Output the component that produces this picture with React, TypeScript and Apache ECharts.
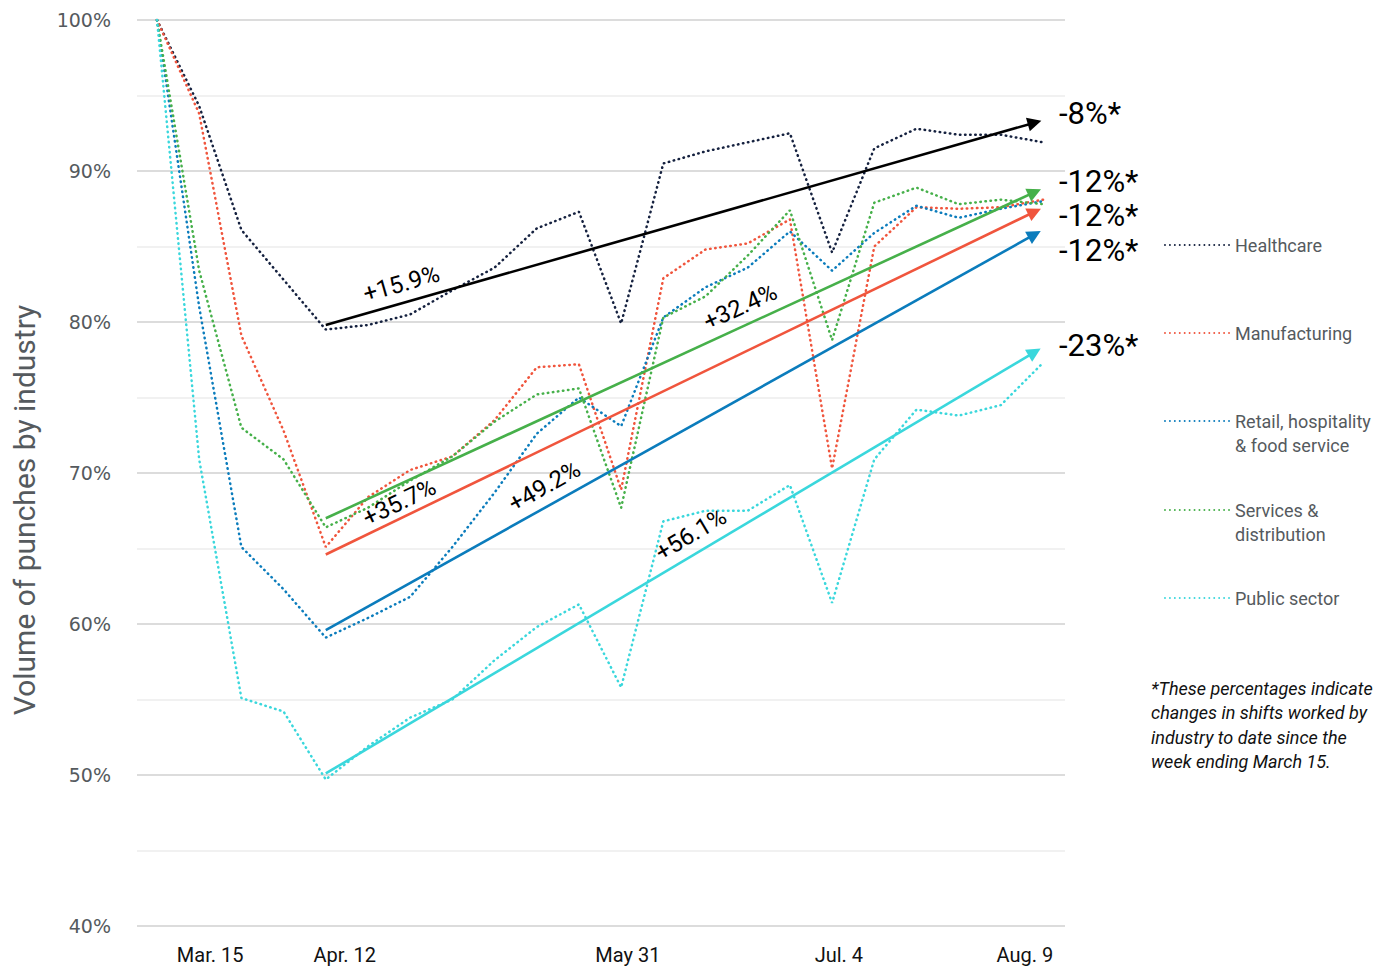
import React, { useEffect, useRef } from "react";
import * as echarts from "echarts";

// weekly observations, week ending Mar 15 (index 0) through Aug 9 (index 21)
const healthcare = [100, 94.3, 86.1, 82.8, 79.5, 79.8, 80.5, 82.1, 83.6, 86.2, 87.3, 79.9, 90.5, 91.3, 91.9, 92.5, 84.6, 91.5, 92.8, 92.4, 92.4, 91.9];
const manufacturing = [100, 93.8, 79.1, 72.8, 65.1, 68.4, 70.2, 71.1, 73.5, 77.0, 77.2, 68.9, 82.9, 84.8, 85.2, 86.8, 70.3, 85.0, 87.6, 87.5, 87.6, 88.1];
const retail = [100, 81.0, 65.1, 62.3, 59.1, 60.4, 61.8, 65.1, 68.7, 72.6, 75.0, 73.1, 80.3, 82.3, 83.6, 86.0, 83.4, 85.9, 87.7, 86.9, 87.5, 88.0];
const services = [100, 83.4, 73.0, 70.9, 66.4, 67.7, 69.5, 71.1, 73.4, 75.2, 75.6, 67.7, 80.3, 81.7, 84.4, 87.4, 78.8, 87.9, 88.9, 87.8, 88.1, 87.8];
const publicSector = [100, 70.9, 55.1, 54.2, 49.7, 51.9, 53.8, 55.0, 57.6, 59.8, 61.3, 55.8, 66.8, 67.5, 67.5, 69.2, 61.4, 70.9, 74.2, 73.8, 74.5, 77.3];

const seriesNames = ["Healthcare", "Manufacturing", "Retail, hospitality & food service", "Services & distribution", "Public sector"];
const legendFirstLines = ["Healthcare", "Manufacturing", "Retail, hospitality", "Services &", "Public sector"];
const legendSecondLines = ["", "", "& food service", "distribution", ""];
const colors = ["#15213f", "#f0553d", "#0b7cbc", "#46b04a", "#3ad7dc"];

// trend arrows (from Apr. 12 to Aug. 9)
const trendStartX = 4;
const trendEndX = 20.8;
const trendNames = ["+15.9%", "+32.4%", "+35.7%", "+49.2%", "+56.1%"];
const trendStart = [79.8, 67.0, 64.6, 59.6, 50.1];
const trendEnd = [93.2, 88.6, 87.3, 85.8, 78.0];
const trendColors = ["#000000", "#46b04a", "#f0553d", "#0b7cbc", "#3ad7dc"];
const trendLabelAlong = [45, 426, 50, 222, 397];
const trendLabelGap = [7, 7, 3, 7, 7];

// end labels
const endLabels = ["-8%*", "-12%*", "-12%*", "-12%*", "-23%*"];
const endLabelY = [113, 181, 215, 250, 345];

// x tick labels
const tickPos = [1.26, 4.45, 11.16, 16.16, 20.57];
const tickLabels = ["Mar. 15", "Apr. 12", "May 31", "Jul. 4", "Aug. 9"];

const legendCenters = [245, 333, 421, 510, 598];

const footnote = "*These percentages indicate\nchanges in shifts worked by\nindustry to date since the\nweek ending March 15.";

const FONT = "Roboto, 'Liberation Sans', sans-serif";

let dots = "path://";
for (let k = 0; k < 14; k++) {
  dots += `M${k * 5},1a1,1 0 1,0 2,0a1,1 0 1,0 -2,0Z`;
}

export default function App() {
  const ref = useRef<HTMLDivElement>(null);
  useEffect(() => {
    if (!ref.current) return;
    const chart = echarts.init(ref.current, undefined, { renderer: "svg" });
    const allData = [healthcare, manufacturing, retail, services, publicSector];
    const lineSeries = allData.map((arr, s) => ({
      type: "line",
      name: seriesNames[s],
      data: arr.map((v, i) => [i, v]),
      symbol: "none",
      showSymbol: false,
      z: 2,
      color: colors[s],
      lineStyle: { width: 2.5, type: [0.5, 4.6], cap: "round", color: colors[s] },
    }));
    const trendSeries = {
      type: "lines",
      coordinateSystem: "cartesian2d",
      z: 5,
      symbol: ["none", "triangle"],
      symbolSize: 14,
      lineStyle: { width: 2.6, opacity: 1 },
      label: {
        show: true,
        position: "insideStartTop",
        fontSize: 24,
        color: "#000",
        fontFamily: FONT,
        formatter: "{b}",
      },
      data: trendNames.map((n, k) => ({
        name: n,
        coords: [
          [trendStartX, trendStart[k]],
          [trendEndX, trendEnd[k]],
        ],
        lineStyle: { color: trendColors[k], width: 2.6, opacity: 1 },
        label: { distance: [trendLabelAlong[k], trendLabelGap[k]] },
      })),
    };
    const legends = seriesNames.map((name, k) => ({
      data: [name],
      orient: "vertical",
      left: 1164,
      top: legendCenters[k] - 12,
      padding: 0,
      itemWidth: 66,
      itemHeight: 2.4,
      icon: dots,
      selectedMode: false,
      formatter: () => legendFirstLines[k],
      textStyle: {
        fontSize: 18,
        color: "#555a5e",
        fontFamily: FONT,
        lineHeight: 24,
      },
    }));
    const graphics: any[] = [
      {
        type: "text",
        x: 24,
        y: 510,
        rotation: Math.PI / 2,
        style: {
          text: "Volume of punches by industry",
          fontSize: 30,
          fill: "#555a5e",
          fontFamily: FONT,
          align: "center",
          verticalAlign: "middle",
        },
      },
      ...endLabels.map((t, k) => ({
        type: "text",
        x: 1059,
        y: endLabelY[k],
        style: { text: t, fontSize: 31, lineHeight: 30, fill: "#000", fontFamily: FONT, verticalAlign: "middle" },
      })),
      ...legendSecondLines
        .map((t, k) => ({ t, k }))
        .filter((o) => o.t)
        .map((o) => ({
          type: "text",
          x: 1235,
          y: legendCenters[o.k] + 24,
          style: { text: o.t, fontSize: 18, fill: "#555a5e", fontFamily: FONT, verticalAlign: "middle" },
        })),
      {
        type: "text",
        x: 1151,
        y: 676,
        style: {
          text: footnote,
          fontSize: 18,
          fontStyle: "italic",
          lineHeight: 24.5,
          fill: "#111",
          fontFamily: FONT,
        },
      },
    ];
    chart.setOption({
      animation: false,
      grid: { left: 137, right: 331, top: 20, bottom: 48, containLabel: false },
      xAxis: {
        type: "value",
        min: -0.474,
        max: 21.52,
        axisLine: { show: false },
        axisTick: { show: false },
        splitLine: { show: false },
        axisLabel: {
          customValues: tickPos,
          formatter: (v: number) => {
            const i = tickPos.findIndex((p) => Math.abs(p - v) < 1e-6);
            return i >= 0 ? tickLabels[i] : "";
          },
          fontSize: 20,
          color: "#111",
          fontFamily: FONT,
          margin: 19,
        },
      },
      yAxis: {
        type: "value",
        min: 40,
        max: 100,
        interval: 5,
        axisLine: { show: false },
        axisTick: { show: false },
        splitLine: { lineStyle: { color: ["#dcdcdc", "#f1f1f1"], width: 2 } },
        axisLabel: {
          formatter: (v: number) => (v % 10 === 0 ? v + "%" : ""),
          fontSize: 19,
          color: "#555a5e",
          fontFamily: "'DejaVu Sans', sans-serif",
          margin: 26,
        },
      },
      legend: legends,
      graphic: graphics,
      series: [...lineSeries, trendSeries],
    } as any);
    return () => chart.dispose();
  }, []);
  return <div ref={ref} style={{ width: 1396, height: 974, margin: -8 }} />;
}
